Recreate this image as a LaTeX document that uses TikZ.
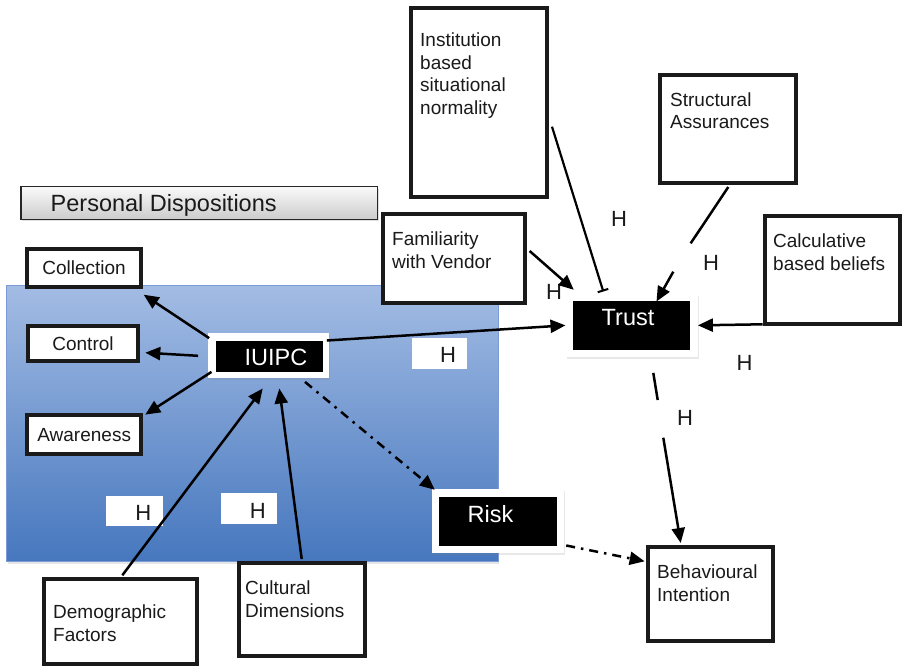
\documentclass[tikz,border=0pt]{standalone}
\usepackage{fontspec}
\setmainfont{Liberation Sans}
\usetikzlibrary{arrows.meta,shadows,calc}
\definecolor{bordk}{HTML}{1A1A1A}
\definecolor{bluetop}{HTML}{A3BCE4}
\definecolor{bluebot}{HTML}{4677BE}
\definecolor{bluebord}{HTML}{7A9BD3}
\begin{document}
\begin{tikzpicture}[x=1pt,y=-1pt,
  box/.style={draw=bordk, line width=4pt, fill=white, inner sep=0pt},
  lbl/.style={font=\fontsize{19}{22.5}\selectfont, align=left, inner sep=0pt, text=bordk},
  cbox/.style={box, font=\fontsize{19}{22}\selectfont, text=bordk},
  big/.style={font=\fontsize{23.5}{28}\selectfont, inner sep=0pt},
  wbox/.style={fill=white, inner sep=0pt, drop shadow={shadow xshift=1pt, shadow yshift=-2pt, opacity=0.18}},
  bbox/.style={fill=black, inner sep=0pt},
  con/.style={line width=2.5pt, draw=black, -{Triangle[length=15pt,width=13pt]}},
  seg/.style={line width=2.5pt, draw=black},
  dd/.style={con, dash pattern=on 9pt off 6pt on 2.5pt off 6pt},
  hl/.style={font=\fontsize{22}{26}\selectfont, inner sep=0pt, text=bordk},
  hbx/.style={fill=white, inner sep=0pt}
]
\useasboundingbox (0,0) rectangle (903,665);

% blue panel
\node[draw=bluebord, line width=1pt, top color=bluetop, bottom color=bluebot,
      minimum width=491.6, minimum height=276.7, inner sep=0pt,
      drop shadow={shadow xshift=1pt, shadow yshift=-2pt, opacity=0.2}] (panel) at (252.5,423.35) {};

% banner
\node[draw=gray!30!black, line width=1.2pt, top color=gray!4, bottom color=gray!40,
      minimum width=356.7, minimum height=32.6, inner sep=0pt,
      drop shadow={shadow xshift=1pt, shadow yshift=-2pt, opacity=0.25}] (banner) at (199.35,203) {};
\node[big, anchor=north west, text=bordk] (bannertxt) at (50.5,194.3) {Personal Dispositions};

% left boxes
\node[cbox, minimum width=114, minimum height=38.6] (coll) at (84,268) {Collection};
\node[cbox, minimum width=110, minimum height=34.7] (ctrl) at (83,343.3) {Control};
\node[cbox, minimum width=114, minimum height=38.7] (aware) at (84.2,434.7) {Awareness};

% IUIPC
\node[wbox, minimum width=121, minimum height=45] (iuipc) at (268.8,355.8) {};
\node[bbox, minimum width=107, minimum height=30.7] (iuipcin) at (269.2,356.35) {};
\node[big, text=white, anchor=north west] (iuipctxt) at (244.5,349.3) {IUIPC};

% Risk
\node[wbox, minimum width=131.7, minimum height=64] (risk) at (498.15,521) {};
\node[bbox, minimum width=118, minimum height=49.6] (riskin) at (498.3,521.5) {};
\node[big, text=white, anchor=north west] (risktxt) at (467.5,505) {Risk};

% Trust
\node[wbox, minimum width=132, minimum height=62.7] (trust) at (631.7,325.35) {};
\node[bbox, minimum width=117.6, minimum height=49.3] (trustin) at (631.5,325.35) {};
\node[big, text=white, anchor=north west] (trusttxt) at (601.5,309.3) {Trust};

% text boxes
\node[box, minimum width=136, minimum height=189.3] (inst) at (479.3,102.7) {};
\node[lbl, anchor=north west] (insttxt) at (420,33) {Institution\\based\\situational\\normality};

\node[box, minimum width=135.4, minimum height=108.3] (struct) at (728,128.8) {};
\node[lbl, anchor=north west] (structtxt) at (670,92.3) {Structural\\Assurances};

\node[box, minimum width=141.7, minimum height=89.7] (fam) at (453.8,258.5) {};
\node[lbl, anchor=north west] (famtxt) at (392,231.7) {Familiarity\\with Vendor};

\node[box, minimum width=135.3, minimum height=108] (calc) at (832.3,270) {};
\node[lbl, anchor=north west] (calctxt) at (773,234) {Calculative\\based beliefs};

\node[box, minimum width=125.3, minimum height=94] (beh) at (710.3,594) {};
\node[lbl, anchor=north west] (behtxt) at (657,565) {Behavioural\\Intention};

\node[box, minimum width=153.6, minimum height=85] (demo) at (120.5,621.5) {};
\node[lbl, anchor=north west] (demotxt) at (53,605) {Demographic\\Factors};

\node[box, minimum width=125.4, minimum height=93] (cult) at (302,609.5) {};
\node[lbl, anchor=north west] (culttxt) at (245,580.7) {Cultural\\Dimensions};

% H boxes
\node[hbx, minimum width=55.6, minimum height=31] (hb1) at (439.5,353.8) {};
\node[hl] (h1) at (448,355) {H};
\node[hbx, minimum width=57.3, minimum height=30] (hb2) at (134.65,511) {};
\node[hl] (h2) at (143.3,513) {H};
\node[hbx, minimum width=56.6, minimum height=31] (hb3) at (249,508.8) {};
\node[hl] (h3) at (257.8,510.5) {H};

% plain H labels
\node[hl] (h4) at (619,219.3) {H};
\node[hl] (h5) at (554,291.5) {H};
\node[hl] (h6) at (711,263.3) {H};
\node[hl] (h7) at (744.5,363) {H};
\node[hl] (h8) at (685,418) {H};

% connectors
\draw[con] ([shift={(1,5)}]iuipc.north west) -- ([shift={(0.7,5.4)}]coll.south east);
\draw[con] ([shift={(-10,0)}]iuipc.west) -- ([shift={(5.3,9.4)}]ctrl.east);
\draw[con] ([shift={(3.4,-6.6)}]iuipc.south west) -- ([shift={(2,1.3)}]aware.north east);
\draw[con] ([shift={(-2.6,7.4)}]iuipc.north east) -- (trust.west);
\draw[dd] ([shift={(36.2,3.4)}]iuipc.south) -- ([shift={(2.7,1)}]risk.north west);
\draw[con] ([shift={(1.8,-1.7)}]demo.north) -- ([shift={(-6.1,10)}]iuipc.south);
\draw[con] ([shift={(-0.3,-2)}]cult.north) -- ([shift={(10.5,10)}]iuipc.south);
\draw[con] ([shift={(3,-7.5)}]fam.east) -- ([shift={(8.3,-4)}]trust.north west);
\draw[line width=2.2pt, -{Bar[width=11pt,line width=2pt]}] ([shift={(2.7,24)}]inst.east) -- ([shift={(-28.4,-2.3)}]trust.north);

\coordinate (s1) at (690.7,243.3);
\coordinate (s2) at (673.3,271.7);
\draw[seg] ([shift={(0.3,2)}]struct.south) -- (s1);
\draw[con] (s2) -- ([shift={(25,1)}]trustin.north);

\draw[con] ([shift={(0,54.3)}]calc.west) -- (trust.east);

\coordinate (t1) at (657.7,400);
\coordinate (t2) at (663.3,437.7);
\draw[seg] ([shift={(21.6,16)}]trust.south) -- (t1);
\draw[con] (t2) -- ([shift={(-29.6,-2)}]beh.north);

\draw[dd] ([shift={(2,-7.7)}]risk.south east) -- ([shift={(-1,16.3)}]beh.north west);
\end{tikzpicture}
\end{document}
